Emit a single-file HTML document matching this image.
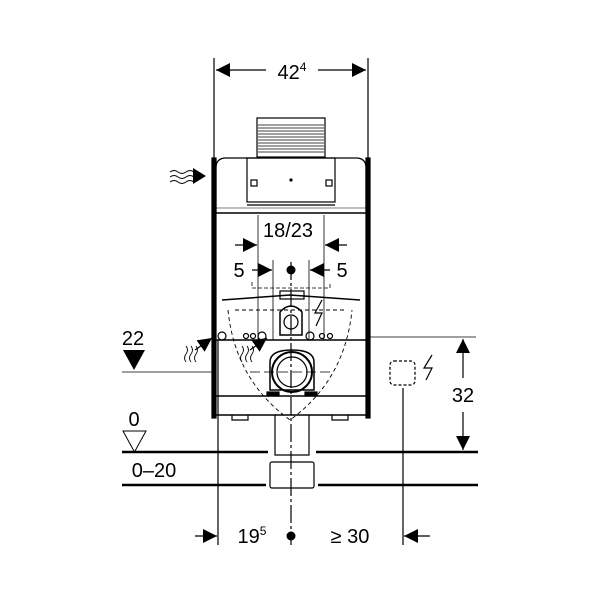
<!DOCTYPE html>
<html><head><style>body{margin:0;background:#fff}svg{display:block}text{font-family:"Liberation Sans",sans-serif;fill:#000}</style></head>
<body>
<svg width="600" height="600" viewBox="0 0 600 600" xmlns="http://www.w3.org/2000/svg">
<defs>
<marker id="b" viewBox="0 0 10 10" refX="10" refY="5" markerWidth="14" markerHeight="14" orient="auto-start-reverse" markerUnits="userSpaceOnUse"><path d="M0,0L10,5L0,10z"/></marker>
</defs>
<g stroke="#000" fill="none" stroke-width="1.2">
<line x1="214" y1="58" x2="214" y2="158"/><line x1="368" y1="58" x2="368" y2="158"/>
<line x1="216" y1="70" x2="266" y2="70" marker-start="url(#b)"/><line x1="318" y1="70" x2="366" y2="70" marker-end="url(#b)"/>
<rect x="257" y="118" width="68" height="39"/>
<g stroke-width="0.8"><line x1="258" y1="125" x2="324" y2="125"/><line x1="258" y1="128" x2="324" y2="128"/><line x1="258" y1="131" x2="324" y2="131"/><line x1="258" y1="134" x2="324" y2="134"/><line x1="258" y1="137" x2="324" y2="137"/><line x1="258" y1="140" x2="324" y2="140"/><line x1="258" y1="143" x2="324" y2="143"/><line x1="258" y1="146" x2="324" y2="146"/><line x1="258" y1="149" x2="324" y2="149"/><line x1="258" y1="152" x2="324" y2="152"/></g>
<rect x="212" y="158" width="4" height="260" fill="#000"/><rect x="366" y="158" width="4" height="260" fill="#000"/>
<path d="M216,213 V168 Q216,158 226,158 H356 Q366,158 366,168 V213"/>
<rect x="247" y="158" width="88" height="44"/>
<line x1="247" y1="205" x2="335" y2="205"/>
<rect x="251" y="180" width="6" height="6"/><rect x="326" y="180" width="6" height="6"/>
<circle cx="291" cy="180" r="1" fill="#000"/>
<line x1="216" y1="213" x2="366" y2="213" stroke-width="1.5"/>
<line x1="216" y1="208" x2="366" y2="208" stroke-width="0.6"/>
<path d="M222,300 L290,295 L360,300" stroke-width="1.5"/>
<rect x="280" y="291" width="24" height="8"/>
<line x1="258" y1="215" x2="258" y2="340" stroke-width="0.8"/><line x1="324" y1="215" x2="324" y2="340" stroke-width="0.8"/>
<line x1="273" y1="260" x2="273" y2="340" stroke-width="0.8"/><line x1="309" y1="260" x2="309" y2="340" stroke-width="0.8"/>
<line x1="235" y1="245" x2="257" y2="245" marker-end="url(#b)"/><line x1="347" y1="245" x2="325" y2="245" marker-end="url(#b)"/>
<line x1="252" y1="270" x2="272" y2="270" marker-end="url(#b)"/><line x1="330" y1="270" x2="310" y2="270" marker-end="url(#b)"/>
<path d="M252,282 V288 H330 V282" stroke-dasharray="4,2" stroke-width="0.8"/>
<path d="M228,310 Q235,380 290,420 Q345,380 352,310" stroke-dasharray="4,3" stroke-width="0.9"/>
<path d="M235,310 H345" stroke-dasharray="4,3" stroke-width="0.9"/>
<path d="M280,335 V312 Q291,300 302,312 V335 Z" stroke-width="1.5"/>
<circle cx="291" cy="322" r="7"/>
<line x1="216" y1="340" x2="366" y2="340" stroke-width="1.5"/>
<line x1="366" y1="337" x2="476" y2="337" stroke-width="0.8"/>
<circle cx="222" cy="336" r="4"/><circle cx="262" cy="336" r="4"/><circle cx="310" cy="336" r="4"/>
<circle cx="246" cy="336" r="2.5"/><circle cx="253" cy="336" r="2.5"/><circle cx="322" cy="336" r="2.5"/><circle cx="330" cy="336" r="2.5"/>
<path d="M270,390 V362 Q270,350 292,350 Q314,350 314,362 V390 Z" stroke-width="1.5"/>
<circle cx="292" cy="372" r="20" stroke-width="2"/><circle cx="292" cy="372" r="15"/>
<rect x="267" y="392" width="12" height="4" fill="#000"/><rect x="305" y="392" width="12" height="4" fill="#000"/>
<line x1="216" y1="396" x2="366" y2="396" stroke-width="1.5"/>
<line x1="216" y1="415" x2="366" y2="415" stroke-width="1.5"/>
<path d="M232,415 V420 H248 V415 M332,415 V420 H348 V415"/>
<path d="M275,415 V455 H309 V415"/>
<rect x="270" y="462" width="44" height="26" rx="2"/>
<line x1="122" y1="372" x2="215" y2="372" stroke-width="0.8"/>
<line x1="250" y1="372" x2="334" y2="372" stroke-width="0.8" stroke-dasharray="10,4"/>
<line x1="122" y1="452" x2="268" y2="452" stroke-width="2.5"/><line x1="316" y1="452" x2="478" y2="452" stroke-width="2.5"/>
<line x1="122" y1="485" x2="266" y2="485" stroke-width="2.5"/><line x1="318" y1="485" x2="478" y2="485" stroke-width="2.5"/>
<path d="M123,431 H146 L134.5,452 Z" stroke-width="1"/>
<line x1="463" y1="339" x2="463" y2="378" marker-start="url(#b)"/>
<line x1="463" y1="412" x2="463" y2="450" marker-end="url(#b)"/>
<rect x="390" y="361" width="25" height="24" rx="4" stroke-dasharray="3,2"/>
<line x1="403" y1="388" x2="403" y2="545"/>
<path d="M432,355 L424,368 L432,368 L426,380" stroke-width="1.2"/>
<line x1="218" y1="340" x2="218" y2="545"/>
<line x1="291" y1="262" x2="291" y2="545" stroke-dasharray="18,3,3,3"/>
<line x1="195" y1="536" x2="217" y2="536" marker-end="url(#b)"/>
<line x1="430" y1="536" x2="404" y2="536" marker-end="url(#b)"/>
<path d="M322,300 L315,313 L322,313 L316,326" stroke-width="1.2"/>
<path d="M170,172 q4,-3 8,0 t8,0 t8,0 M170,177 q4,-3 8,0 t8,0 t8,0 M170,182 q4,-3 8,0 t8,0 t8,0" stroke-width="0.9"/>
<path d="M186,362 q-3,-4 0,-8 t0,-8 M191,362 q-3,-4 0,-8 t0,-8 M196,362 q-3,-4 0,-8 t0,-8" stroke-width="0.9"/>
<line x1="195" y1="350" x2="212" y2="338" marker-end="url(#b)"/>
<path d="M242,362 q-3,-4 0,-8 t0,-8 M247,362 q-3,-4 0,-8 t0,-8 M252,362 q-3,-4 0,-8 t0,-8" stroke-width="0.9"/>
<line x1="250" y1="350" x2="267" y2="338" marker-end="url(#b)"/>
</g>
<path d="M193,168 L206,176 L193,184Z"/>
<circle cx="291" cy="270" r="4.5"/><circle cx="291" cy="536" r="4.5"/>
<path d="M123,350 H145 L134,370Z"/>
<text x="292" y="79" font-size="20" text-anchor="middle">42<tspan font-size="12" dy="-8">4</tspan></text>
<text x="288" y="237" font-size="20" text-anchor="middle">18/23</text>
<text x="239" y="277" font-size="20" text-anchor="middle">5</text>
<text x="342" y="277" font-size="20" text-anchor="middle">5</text>
<text x="133" y="345" font-size="20" text-anchor="middle">22</text>
<text x="134" y="426" font-size="20" text-anchor="middle">0</text>
<text x="154" y="477" font-size="20" text-anchor="middle">0–20</text>
<text x="463" y="402" font-size="20" text-anchor="middle">32</text>
<text x="252" y="543" font-size="20" text-anchor="middle">19<tspan font-size="12" dy="-8">5</tspan></text>
<text x="350" y="543" font-size="20" text-anchor="middle">≥ 30</text>
</svg>
</body></html>
